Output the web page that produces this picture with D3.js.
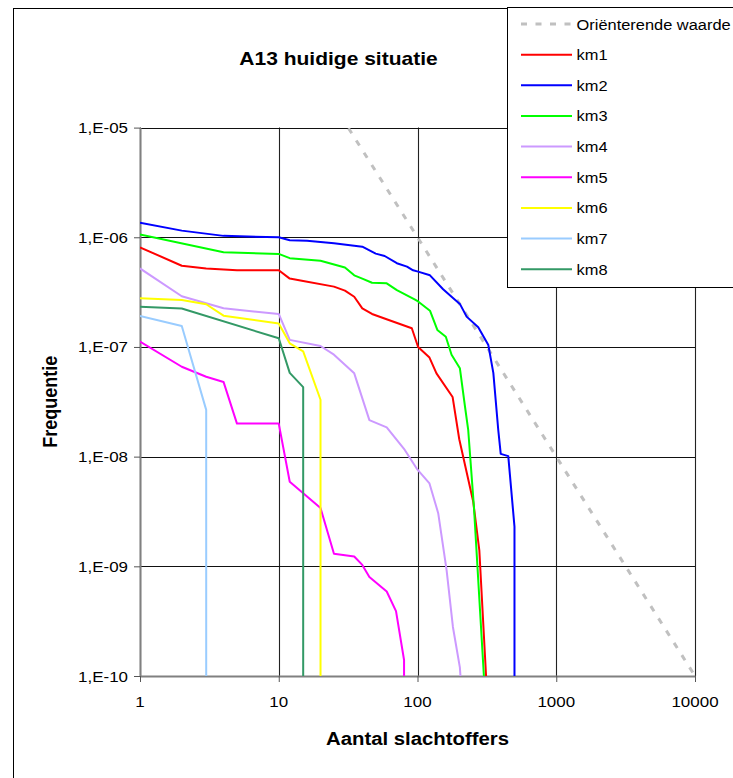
<!DOCTYPE html>
<html>
<head>
<meta charset="utf-8">
<script src="https://cdn.jsdelivr.net/npm/d3@7"></script>
<style>
  html, body { margin: 0; padding: 0; background: #fff; overflow: hidden; }
  svg { display: block; }
</style>
</head>
<body>
<svg id="chart" width="733" height="778"></svg>
<script>
// FN-curves A13: frequency of exceeding N victims, per km section
const xTicks = [1, 10, 100, 1000, 10000];
const xTickLabels = ["1", "10", "100", "1000", "10000"];
const yTicks = [1e-10, 1e-9, 1e-8, 1e-7, 1e-6, 1e-5];
const yTickLabels = ["1,E-10", "1,E-09", "1,E-08", "1,E-07", "1,E-06", "1,E-05"];

const seriesNames = ["Oriënterende waarde", "km1", "km2", "km3", "km4", "km5", "km6", "km7", "km8"];
const seriesColors = ["#C0C0C0", "#FF0000", "#0000FF", "#00FF00", "#CC99FF", "#FF00FF", "#FFFF00", "#99CCFF", "#339966"];

// guide value line
const refN = [10, 100, 1000, 10000];
const refF = [1e-4, 1e-6, 1e-8, 1e-10];

const km1N = [1, 2, 3, 5, 10, 12, 15, 25, 30, 35, 40, 47, 62, 91, 101, 122, 137, 179, 200, 252, 279, 312];
const km1F = [8.1e-7, 5.5e-7, 5.2e-7, 5.0e-7, 5.0e-7, 4.2e-7, 4.0e-7, 3.55e-7, 3.26e-7, 2.87e-7, 2.25e-7, 2.0e-7, 1.76e-7, 1.48e-7, 1.0e-7, 8.0e-8, 5.75e-8, 3.5e-8, 1.44e-8, 3.9e-9, 1.4e-9, 1e-10];

const km2N = [1, 2, 4, 10, 12, 16, 25, 40, 50, 58, 71, 84, 93, 101, 123, 153, 176, 202, 226, 274, 324, 352, 382, 398, 451, 500, 500];
const km2F = [1.36e-6, 1.15e-6, 1.03e-6, 1.0e-6, 9.4e-7, 9.3e-7, 8.8e-7, 8.2e-7, 7.1e-7, 6.75e-7, 5.8e-7, 5.4e-7, 5.0e-7, 4.86e-7, 4.5e-7, 3.36e-7, 2.87e-7, 2.47e-7, 1.89e-7, 1.51e-7, 1.04e-7, 5.8e-8, 1.75e-8, 1.06e-8, 1.01e-8, 2.3e-9, 1e-10];

const km3N = [1, 4, 10, 12, 20, 30, 35, 40, 47, 60, 71, 96, 101, 123, 139, 160, 176, 202, 220, 232, 255, 301];
const km3F = [1.06e-6, 7.3e-7, 7.05e-7, 6.45e-7, 6.1e-7, 5.3e-7, 4.5e-7, 4.2e-7, 3.85e-7, 3.8e-7, 3.3e-7, 2.7e-7, 2.6e-7, 2.14e-7, 1.43e-7, 1.24e-7, 8.5e-8, 6.4e-8, 2.85e-8, 1.75e-8, 3.5e-9, 1e-10];

const km4N = [1, 2, 4, 10, 12, 20, 25, 35, 45, 60, 81, 100, 122, 141, 162, 180, 202, 204];
const km4F = [5.2e-7, 2.9e-7, 2.25e-7, 2.0e-7, 1.16e-7, 1.02e-7, 8.5e-8, 5.75e-8, 2.15e-8, 1.85e-8, 1.15e-8, 7.6e-9, 5.7e-9, 3.05e-9, 9.3e-10, 2.8e-10, 1.2e-10, 1e-10];

const km5N = [1, 2, 3, 4, 5, 10, 12, 20, 25, 35, 40, 45, 60, 70, 80, 80];
const km5F = [1.12e-7, 6.6e-8, 5.35e-8, 4.8e-8, 2.0e-8, 2.0e-8, 5.9e-9, 3.4e-9, 1.3e-9, 1.23e-9, 1.03e-9, 8.0e-10, 5.9e-10, 3.9e-10, 1.4e-10, 1e-10];

const km6N = [1, 2, 3, 4, 10, 12, 15, 20, 20];
const km6F = [2.78e-7, 2.68e-7, 2.45e-7, 1.93e-7, 1.64e-7, 1.08e-7, 9.1e-8, 3.3e-8, 1e-10];

const km7N = [1, 2, 3, 3];
const km7F = [1.92e-7, 1.55e-7, 2.67e-8, 1e-10];

const km8N = [1, 2, 10, 12, 15, 15];
const km8F = [2.32e-7, 2.24e-7, 1.2e-7, 5.8e-8, 4.3e-8, 1e-10];

const seriesN = [refN, km1N, km2N, km3N, km4N, km5N, km6N, km7N, km8N];
const seriesF = [refF, km1F, km2F, km3F, km4F, km5F, km6F, km7F, km8F];

const W = 733, H = 778;
const plot = { left: 140, right: 695, top: 127.6, bottom: 676 };
const FONT = "'Liberation Sans', Arial, Helvetica, sans-serif";
const SX = 1.13; // horizontal text stretch of the chart's typeface

const svg = d3.select("#chart");

const x = d3.scaleLog().domain([1, 10000]).range([plot.left, plot.right]);
const y = d3.scaleLog().domain([1e-10, 1e-5]).range([plot.bottom, plot.top]);

svg.append("rect").attr("width", W).attr("height", H).attr("fill", "#fff");

// chart frame (runs off the right and bottom edges)
svg.append("rect")
  .attr("x", 13.5).attr("y", 8.5)
  .attr("width", 800).attr("height", 800)
  .attr("fill", "none").attr("stroke", "#000").attr("stroke-width", 1);

function stretchedText(parent, str, px, py, opts = {}) {
  return parent.append("text")
    .attr("transform", `translate(${px},${py}) scale(${opts.sx || SX},1)`)
    .attr("text-anchor", opts.anchor || "start")
    .attr("font-family", FONT)
    .attr("font-size", opts.size || 15)
    .attr("font-weight", opts.weight || "normal")
    .attr("fill", "#000")
    .text(str);
}

// gridlines
const grid = svg.append("g");
grid.selectAll("line.v").data(xTicks).join("line")
  .attr("x1", d => Math.round(x(d)) + 0.5).attr("x2", d => Math.round(x(d)) + 0.5)
  .attr("y1", plot.top).attr("y2", plot.bottom)
  .attr("stroke", "#222").attr("stroke-width", 1.1);
grid.selectAll("line.h").data(yTicks).join("line")
  .attr("x1", plot.left).attr("x2", plot.right)
  .attr("y1", d => Math.round(y(d)) + 0.5).attr("y2", d => Math.round(y(d)) + 0.5)
  .attr("stroke", "#111").attr("stroke-width", 1.1);

// axes: tick marks and axis lines
const yAxis = svg.append("g").attr("transform", `translate(${plot.left},0)`)
  .call(d3.axisLeft(y).tickValues(yTicks).tickFormat("").tickSize(6).tickSizeOuter(0));
const xAxis = svg.append("g").attr("transform", `translate(0,${plot.bottom})`)
  .call(d3.axisBottom(x).tickValues(xTicks).tickFormat("").tickSize(6).tickSizeOuter(0));
[yAxis, xAxis].forEach(a => {
  a.select(".domain").attr("stroke", "#808080").attr("stroke-width", 2);
  a.selectAll(".tick line").attr("stroke", "#555").attr("stroke-width", 1);
});

// tick labels
yTicks.forEach((v, i) => stretchedText(svg, yTickLabels[i], 128, y(v) + 5.5, { anchor: "end", size: 15 }));
xTicks.forEach((v, i) => stretchedText(svg, xTickLabels[i], x(v), 707, { anchor: "middle", size: 15 }));

// curves
const clip = svg.append("defs").append("clipPath").attr("id", "plotClip");
clip.append("rect").attr("x", plot.left).attr("y", plot.top)
  .attr("width", plot.right - plot.left).attr("height", plot.bottom - plot.top);

const line = d3.line().x(d => x(d[0])).y(d => y(d[1]));
const curves = svg.append("g").attr("clip-path", "url(#plotClip)");
seriesN.forEach((ns, i) => {
  const pts = ns.map((n, j) => [n, seriesF[i][j]]);
  const p = curves.append("path")
    .attr("d", line(pts))
    .attr("fill", "none")
    .attr("stroke", seriesColors[i])
    .attr("stroke-linejoin", "round");
  if (i === 0) p.attr("stroke-width", 3).attr("stroke-dasharray", "6,8.5");
  else p.attr("stroke-width", 2);
});

// titles
stretchedText(svg, "A13 huidige situatie", 338.5, 64.5, { anchor: "middle", size: 18.6, weight: "bold" });
stretchedText(svg, "Aantal slachtoffers", x(100), 744.5, { anchor: "middle", size: 18, weight: "bold" });
svg.append("text")
  .attr("transform", `translate(57,${(plot.top + plot.bottom) / 2}) rotate(-90) scale(1,${SX})`)
  .attr("text-anchor", "middle")
  .attr("font-family", FONT).attr("font-size", 18).attr("font-weight", "bold")
  .text("Frequentie");

// legend
const legend = svg.append("g");
legend.append("rect")
  .attr("x", 507.5).attr("y", 7.5).attr("width", 300).attr("height", 280)
  .attr("fill", "#fff").attr("stroke", "#000").attr("stroke-width", 1);
seriesNames.forEach((name, i) => {
  const cy = 24 + i * 30.65;
  const l = legend.append("line")
    .attr("x1", 521).attr("x2", 572).attr("y1", cy).attr("y2", cy)
    .attr("stroke", seriesColors[i]);
  if (i === 0) l.attr("stroke-width", 3).attr("stroke-dasharray", "6,8.5");
  else l.attr("stroke-width", 2);
  stretchedText(legend, name, 576.5, cy + 5.5, { size: 15, sx: 1.095 });
});
</script>
</body>
</html>
